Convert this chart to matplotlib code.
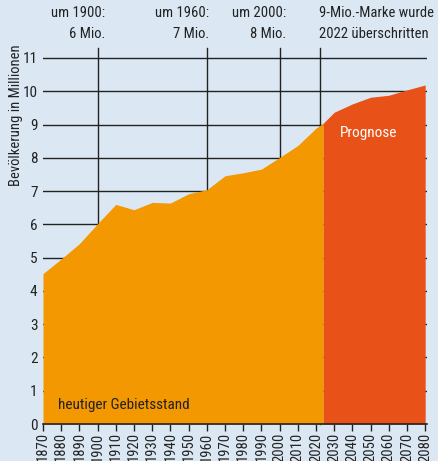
import matplotlib
matplotlib.use("Agg")
import matplotlib.pyplot as plt

plt.rcParams["font.family"] = ["Roboto Condensed", "Archivo Narrow", "Barlow Semi Condensed", "DejaVu Sans"]

# Bevölkerung (Mio.), heutiger Gebietsstand
years_hist = [1870, 1880, 1890, 1900, 1910, 1920, 1930, 1940, 1950, 1960,
              1970, 1980, 1990, 2000, 2010, 2020, 2024]
pop_hist = [4.52, 4.96, 5.42, 6.02, 6.60, 6.44, 6.66, 6.64, 6.92, 7.04,
            7.46, 7.55, 7.66, 8.01, 8.37, 8.89, 9.04]

# Prognose
years_prog = [2024, 2030, 2040, 2050, 2060, 2070, 2080]
pop_prog = [9.04, 9.37, 9.62, 9.82, 9.88, 10.04, 10.19]

marker_years = [1900, 1960, 2000, 2022]
marker_line1 = ["um 1900:", "um 1960:", "um 2000:", "9-Mio.-Marke wurde"]
marker_line2 = ["6 Mio.", "7 Mio.", "8 Mio.", "2022 überschritten"]

xticks = list(range(1870, 2081, 10))
yticks = list(range(0, 12))

bg = "#dbe8f4"
orange = "#f39800"
red = "#e85218"
ink = "#222222"

W, H = 438, 461
fig = plt.figure(figsize=(W / 100, H / 100), dpi=100)
fig.patch.set_facecolor(bg)
ax = fig.add_axes([43 / W, 37 / H, 384 / W, (424 - 49) / H])
ax.set_facecolor(bg)

# grid lines behind the areas
for v in yticks:
    ax.plot([1870, 2080.6], [v, v], color=ink, lw=1.0, zorder=1)
for yr in marker_years:
    ax.plot([yr, yr], [0, 11.3], color=ink, lw=1.0, zorder=1, clip_on=False)

ax.fill_between(years_hist, 0, pop_hist, color=orange, lw=0, zorder=2)
ax.fill_between(years_prog, 0, pop_prog, color=red, lw=0, zorder=2)

ax.set_xlim(1870, 2081)
ax.set_ylim(0, 11.27)
ax.set_xticks(xticks)
ax.set_xticklabels([str(x) for x in xticks], rotation=90, fontsize=10.5, color=ink)
ax.set_yticks(yticks)
ax.set_yticklabels([str(y) for y in yticks], fontsize=11, color=ink)
ax.tick_params(axis="y", length=0, pad=4)
ax.tick_params(axis="x", length=5, width=1, color=ink, pad=1)
for s in ["top", "right", "left"]:
    ax.spines[s].set_visible(False)
ax.spines["bottom"].set_color(ink)
ax.spines["bottom"].set_linewidth(1.2)
ax.spines["bottom"].set_zorder(3)

# annotations above the chart, placed in pixels
text_x = [105, 209, 286, 319]
for x, yr, t1, t2 in zip(text_x, marker_years, marker_line1, marker_line2):
    ha = "left" if yr == 2022 else "right"
    fig.text(x / W, 1 - 13 / H, t1, ha=ha, va="center", fontsize=10.5, color=ink)
    fig.text(x / W, 1 - 34 / H, t2, ha=ha, va="center", fontsize=10.5, color=ink)

ax.text(2049, 8.74, "Prognose", ha="center", va="center", fontsize=11, color="white", zorder=4)
ax.text(1878.5, 0.57, "heutiger Gebietsstand", ha="left", va="center", fontsize=11,
        color=ink, zorder=4)

fig.text(16 / W, 1 - 44 / H, "Bevölkerung in Millionen", rotation=90,
         ha="center", va="top", fontsize=10.5, color=ink)

fig.savefig("out.png", dpi=100, facecolor=bg)
